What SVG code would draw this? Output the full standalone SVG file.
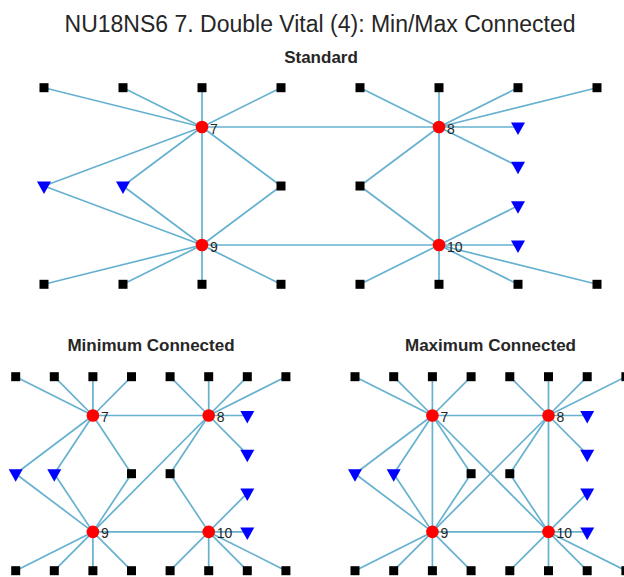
<svg xmlns="http://www.w3.org/2000/svg" xmlns:xlink="http://www.w3.org/1999/xlink" width="624" height="577" viewBox="0 0 624 577">
  <style>
    .ttl { font-family: "Liberation Sans", Arial, sans-serif; fill: #262626; text-anchor: middle; }
    .main { font-size: 23px; }
    .sub { font-size: 17px; font-weight: bold; }
    .lbl { font-family: "Liberation Sans", Arial, sans-serif; font-size: 14px; fill: #262626; }
    .edges line { stroke: #66b1d0; stroke-width: 1.7; fill: none; }
    .sq { fill: #000000; }
    .hub { fill: #ff0000; }
    .tri { fill: #0000ff; }
  </style>
  <defs>
    <rect id="sq" class="sq" x="-4.5" y="-4.5" width="9" height="9"/>
    <circle id="hub" class="hub" r="6.3"/>
    <path id="tri" class="tri" d="M-7,-4.5 H7 L0,8 Z"/>
  </defs>

  <rect width="624" height="577" fill="#ffffff"/>

  <!-- titles -->
  <text class="ttl main" x="320" y="31.5">NU18NS6 7. Double Vital (4): Min/Max Connected</text>
  <text class="ttl sub" x="321" y="63">Standard</text>
  <text class="ttl sub" x="151" y="350.5">Minimum Connected</text>
  <text class="ttl sub" x="490.5" y="350.5">Maximum Connected</text>

  <!-- ===== Standard ===== -->
  <g id="std-edges" class="edges">
    <line x1="202" y1="127" x2="44" y2="87.7"/>
    <line x1="202" y1="127" x2="123" y2="87.7"/>
    <line x1="202" y1="127" x2="202" y2="87.7"/>
    <line x1="202" y1="127" x2="281" y2="87.7"/>
    <line x1="202" y1="127" x2="44" y2="186"/>
    <line x1="202" y1="127" x2="123" y2="186"/>
    <line x1="202" y1="127" x2="281" y2="186"/>
    <line x1="202" y1="127" x2="202" y2="245"/>
    <line x1="202" y1="127" x2="439" y2="127"/>
    <line x1="202" y1="245" x2="44" y2="186"/>
    <line x1="202" y1="245" x2="123" y2="186"/>
    <line x1="202" y1="245" x2="281" y2="186"/>
    <line x1="202" y1="245" x2="44" y2="284.3"/>
    <line x1="202" y1="245" x2="123" y2="284.3"/>
    <line x1="202" y1="245" x2="202" y2="284.3"/>
    <line x1="202" y1="245" x2="281" y2="284.3"/>
    <line x1="202" y1="245" x2="439" y2="245"/>
    <line x1="439" y1="127" x2="360" y2="87.7"/>
    <line x1="439" y1="127" x2="439" y2="87.7"/>
    <line x1="439" y1="127" x2="518" y2="87.7"/>
    <line x1="439" y1="127" x2="597" y2="87.7"/>
    <line x1="439" y1="127" x2="518" y2="127"/>
    <line x1="439" y1="127" x2="518" y2="166.3"/>
    <line x1="439" y1="127" x2="360" y2="186"/>
    <line x1="439" y1="127" x2="439" y2="245"/>
    <line x1="439" y1="245" x2="518" y2="205.7"/>
    <line x1="439" y1="245" x2="518" y2="245"/>
    <line x1="439" y1="245" x2="360" y2="186"/>
    <line x1="439" y1="245" x2="360" y2="284.3"/>
    <line x1="439" y1="245" x2="439" y2="284.3"/>
    <line x1="439" y1="245" x2="518" y2="284.3"/>
    <line x1="439" y1="245" x2="597" y2="284.3"/>
  </g>
  <g id="std-nodes">
    <g id="std-t1"><use href="#sq" x="44" y="87.7"/></g>
    <g id="std-t2"><use href="#sq" x="123" y="87.7"/></g>
    <g id="std-t3"><use href="#sq" x="202" y="87.7"/></g>
    <g id="std-t4"><use href="#sq" x="281" y="87.7"/></g>
    <g id="std-t5"><use href="#sq" x="360" y="87.7"/></g>
    <g id="std-t6"><use href="#sq" x="439" y="87.7"/></g>
    <g id="std-t7"><use href="#sq" x="518" y="87.7"/></g>
    <g id="std-t8"><use href="#sq" x="597" y="87.7"/></g>
    <g id="std-m1"><use href="#tri" x="44" y="186"/></g>
    <g id="std-m2"><use href="#tri" x="123" y="186"/></g>
    <g id="std-m3"><use href="#sq" x="281" y="186"/></g>
    <g id="std-m4"><use href="#sq" x="360" y="186"/></g>
    <g id="std-r1"><use href="#tri" x="518" y="127"/></g>
    <g id="std-r2"><use href="#tri" x="518" y="166.3"/></g>
    <g id="std-r3"><use href="#tri" x="518" y="205.7"/></g>
    <g id="std-r4"><use href="#tri" x="518" y="245"/></g>
    <g id="std-b1"><use href="#sq" x="44" y="284.3"/></g>
    <g id="std-b2"><use href="#sq" x="123" y="284.3"/></g>
    <g id="std-b3"><use href="#sq" x="202" y="284.3"/></g>
    <g id="std-b4"><use href="#sq" x="281" y="284.3"/></g>
    <g id="std-b5"><use href="#sq" x="360" y="284.3"/></g>
    <g id="std-b6"><use href="#sq" x="439" y="284.3"/></g>
    <g id="std-b7"><use href="#sq" x="518" y="284.3"/></g>
    <g id="std-b8"><use href="#sq" x="597" y="284.3"/></g>
    <g id="std-n7"><use href="#hub" x="202" y="127"/><text class="lbl" x="210" y="133.5">7</text></g>
    <g id="std-n8"><use href="#hub" x="439" y="127"/><text class="lbl" x="447" y="133.5">8</text></g>
    <g id="std-n9"><use href="#hub" x="202" y="245"/><text class="lbl" x="210" y="251.5">9</text></g>
    <g id="std-n10"><use href="#hub" x="439" y="245"/><text class="lbl" x="447" y="251.5">10</text></g>
  </g>

  <!-- ===== Minimum Connected ===== -->
  <g id="min-edges" class="edges">
    <line x1="92.9" y1="415.5" x2="15.7" y2="376.7"/>
    <line x1="92.9" y1="415.5" x2="54.3" y2="376.7"/>
    <line x1="92.9" y1="415.5" x2="92.9" y2="376.7"/>
    <line x1="92.9" y1="415.5" x2="131.5" y2="376.7"/>
    <line x1="92.9" y1="415.5" x2="15.7" y2="473.7"/>
    <line x1="92.9" y1="415.5" x2="54.3" y2="473.7"/>
    <line x1="92.9" y1="415.5" x2="131.5" y2="473.7"/>
    <line x1="92.9" y1="415.5" x2="208.7" y2="415.5"/>
    <line x1="208.7" y1="415.5" x2="170.1" y2="376.7"/>
    <line x1="208.7" y1="415.5" x2="208.7" y2="376.7"/>
    <line x1="208.7" y1="415.5" x2="247.3" y2="376.7"/>
    <line x1="208.7" y1="415.5" x2="285.9" y2="376.7"/>
    <line x1="208.7" y1="415.5" x2="247.3" y2="415.5"/>
    <line x1="208.7" y1="415.5" x2="247.3" y2="454.3"/>
    <line x1="208.7" y1="415.5" x2="170.1" y2="473.7"/>
    <line x1="208.7" y1="415.5" x2="92.9" y2="531.9"/>
    <line x1="92.9" y1="531.9" x2="15.7" y2="473.7"/>
    <line x1="92.9" y1="531.9" x2="54.3" y2="473.7"/>
    <line x1="92.9" y1="531.9" x2="131.5" y2="473.7"/>
    <line x1="92.9" y1="531.9" x2="15.7" y2="570.7"/>
    <line x1="92.9" y1="531.9" x2="54.3" y2="570.7"/>
    <line x1="92.9" y1="531.9" x2="92.9" y2="570.7"/>
    <line x1="92.9" y1="531.9" x2="131.5" y2="570.7"/>
    <line x1="92.9" y1="531.9" x2="208.7" y2="531.9"/>
    <line x1="208.7" y1="531.9" x2="170.1" y2="473.7"/>
    <line x1="208.7" y1="531.9" x2="247.3" y2="493.1"/>
    <line x1="208.7" y1="531.9" x2="247.3" y2="531.9"/>
    <line x1="208.7" y1="531.9" x2="170.1" y2="570.7"/>
    <line x1="208.7" y1="531.9" x2="208.7" y2="570.7"/>
    <line x1="208.7" y1="531.9" x2="247.3" y2="570.7"/>
    <line x1="208.7" y1="531.9" x2="285.9" y2="570.7"/>
  </g>
  <g id="min-nodes">
    <g id="min-t1"><use href="#sq" x="15.7" y="376.7"/></g>
    <g id="min-t2"><use href="#sq" x="54.3" y="376.7"/></g>
    <g id="min-t3"><use href="#sq" x="92.9" y="376.7"/></g>
    <g id="min-t4"><use href="#sq" x="131.5" y="376.7"/></g>
    <g id="min-t5"><use href="#sq" x="170.1" y="376.7"/></g>
    <g id="min-t6"><use href="#sq" x="208.7" y="376.7"/></g>
    <g id="min-t7"><use href="#sq" x="247.3" y="376.7"/></g>
    <g id="min-t8"><use href="#sq" x="285.9" y="376.7"/></g>
    <g id="min-m1"><use href="#tri" x="15.7" y="473.7"/></g>
    <g id="min-m2"><use href="#tri" x="54.3" y="473.7"/></g>
    <g id="min-m3"><use href="#sq" x="131.5" y="473.7"/></g>
    <g id="min-m4"><use href="#sq" x="170.1" y="473.7"/></g>
    <g id="min-r1"><use href="#tri" x="247.3" y="415.5"/></g>
    <g id="min-r2"><use href="#tri" x="247.3" y="454.3"/></g>
    <g id="min-r3"><use href="#tri" x="247.3" y="493.1"/></g>
    <g id="min-r4"><use href="#tri" x="247.3" y="531.9"/></g>
    <g id="min-b1"><use href="#sq" x="15.7" y="570.7"/></g>
    <g id="min-b2"><use href="#sq" x="54.3" y="570.7"/></g>
    <g id="min-b3"><use href="#sq" x="92.9" y="570.7"/></g>
    <g id="min-b4"><use href="#sq" x="131.5" y="570.7"/></g>
    <g id="min-b5"><use href="#sq" x="170.1" y="570.7"/></g>
    <g id="min-b6"><use href="#sq" x="208.7" y="570.7"/></g>
    <g id="min-b7"><use href="#sq" x="247.3" y="570.7"/></g>
    <g id="min-b8"><use href="#sq" x="285.9" y="570.7"/></g>
    <g id="min-n7"><use href="#hub" x="92.9" y="415.5"/><text class="lbl" x="100.9" y="422">7</text></g>
    <g id="min-n8"><use href="#hub" x="208.7" y="415.5"/><text class="lbl" x="216.7" y="422">8</text></g>
    <g id="min-n9"><use href="#hub" x="92.9" y="531.9"/><text class="lbl" x="100.9" y="538.4">9</text></g>
    <g id="min-n10"><use href="#hub" x="208.7" y="531.9"/><text class="lbl" x="216.7" y="538.4">10</text></g>
  </g>

  <!-- ===== Maximum Connected ===== -->
  <g id="max-edges" class="edges">
    <line x1="432.4" y1="415.5" x2="355" y2="376.7"/>
    <line x1="432.4" y1="415.5" x2="393.7" y2="376.7"/>
    <line x1="432.4" y1="415.5" x2="432.4" y2="376.7"/>
    <line x1="432.4" y1="415.5" x2="471.1" y2="376.7"/>
    <line x1="432.4" y1="415.5" x2="355" y2="473.7"/>
    <line x1="432.4" y1="415.5" x2="393.7" y2="473.7"/>
    <line x1="432.4" y1="415.5" x2="471.1" y2="473.7"/>
    <line x1="432.4" y1="415.5" x2="548.5" y2="415.5"/>
    <line x1="432.4" y1="415.5" x2="432.4" y2="531.9"/>
    <line x1="432.4" y1="415.5" x2="548.5" y2="531.9"/>
    <line x1="548.5" y1="415.5" x2="509.8" y2="376.7"/>
    <line x1="548.5" y1="415.5" x2="548.5" y2="376.7"/>
    <line x1="548.5" y1="415.5" x2="587.2" y2="376.7"/>
    <line x1="548.5" y1="415.5" x2="625.9" y2="376.7"/>
    <line x1="548.5" y1="415.5" x2="587.2" y2="415.5"/>
    <line x1="548.5" y1="415.5" x2="587.2" y2="454.3"/>
    <line x1="548.5" y1="415.5" x2="509.8" y2="473.7"/>
    <line x1="548.5" y1="415.5" x2="432.4" y2="531.9"/>
    <line x1="548.5" y1="415.5" x2="548.5" y2="531.9"/>
    <line x1="432.4" y1="531.9" x2="355" y2="473.7"/>
    <line x1="432.4" y1="531.9" x2="393.7" y2="473.7"/>
    <line x1="432.4" y1="531.9" x2="471.1" y2="473.7"/>
    <line x1="432.4" y1="531.9" x2="355" y2="570.7"/>
    <line x1="432.4" y1="531.9" x2="393.7" y2="570.7"/>
    <line x1="432.4" y1="531.9" x2="432.4" y2="570.7"/>
    <line x1="432.4" y1="531.9" x2="471.1" y2="570.7"/>
    <line x1="432.4" y1="531.9" x2="548.5" y2="531.9"/>
    <line x1="548.5" y1="531.9" x2="509.8" y2="473.7"/>
    <line x1="548.5" y1="531.9" x2="587.2" y2="493.1"/>
    <line x1="548.5" y1="531.9" x2="587.2" y2="531.9"/>
    <line x1="548.5" y1="531.9" x2="509.8" y2="570.7"/>
    <line x1="548.5" y1="531.9" x2="548.5" y2="570.7"/>
    <line x1="548.5" y1="531.9" x2="587.2" y2="570.7"/>
    <line x1="548.5" y1="531.9" x2="625.9" y2="570.7"/>
  </g>
  <g id="max-nodes">
    <g id="max-t1"><use href="#sq" x="355" y="376.7"/></g>
    <g id="max-t2"><use href="#sq" x="393.7" y="376.7"/></g>
    <g id="max-t3"><use href="#sq" x="432.4" y="376.7"/></g>
    <g id="max-t4"><use href="#sq" x="471.1" y="376.7"/></g>
    <g id="max-t5"><use href="#sq" x="509.8" y="376.7"/></g>
    <g id="max-t6"><use href="#sq" x="548.5" y="376.7"/></g>
    <g id="max-t7"><use href="#sq" x="587.2" y="376.7"/></g>
    <g id="max-t8"><use href="#sq" x="625.9" y="376.7"/></g>
    <g id="max-m1"><use href="#tri" x="355" y="473.7"/></g>
    <g id="max-m2"><use href="#tri" x="393.7" y="473.7"/></g>
    <g id="max-m3"><use href="#sq" x="471.1" y="473.7"/></g>
    <g id="max-m4"><use href="#sq" x="509.8" y="473.7"/></g>
    <g id="max-r1"><use href="#tri" x="587.2" y="415.5"/></g>
    <g id="max-r2"><use href="#tri" x="587.2" y="454.3"/></g>
    <g id="max-r3"><use href="#tri" x="587.2" y="493.1"/></g>
    <g id="max-r4"><use href="#tri" x="587.2" y="531.9"/></g>
    <g id="max-b1"><use href="#sq" x="355" y="570.7"/></g>
    <g id="max-b2"><use href="#sq" x="393.7" y="570.7"/></g>
    <g id="max-b3"><use href="#sq" x="432.4" y="570.7"/></g>
    <g id="max-b4"><use href="#sq" x="471.1" y="570.7"/></g>
    <g id="max-b5"><use href="#sq" x="509.8" y="570.7"/></g>
    <g id="max-b6"><use href="#sq" x="548.5" y="570.7"/></g>
    <g id="max-b7"><use href="#sq" x="587.2" y="570.7"/></g>
    <g id="max-b8"><use href="#sq" x="625.9" y="570.7"/></g>
    <g id="max-n7"><use href="#hub" x="432.4" y="415.5"/><text class="lbl" x="440.4" y="422">7</text></g>
    <g id="max-n8"><use href="#hub" x="548.5" y="415.5"/><text class="lbl" x="556.5" y="422">8</text></g>
    <g id="max-n9"><use href="#hub" x="432.4" y="531.9"/><text class="lbl" x="440.4" y="538.4">9</text></g>
    <g id="max-n10"><use href="#hub" x="548.5" y="531.9"/><text class="lbl" x="556.5" y="538.4">10</text></g>
  </g>
</svg>
